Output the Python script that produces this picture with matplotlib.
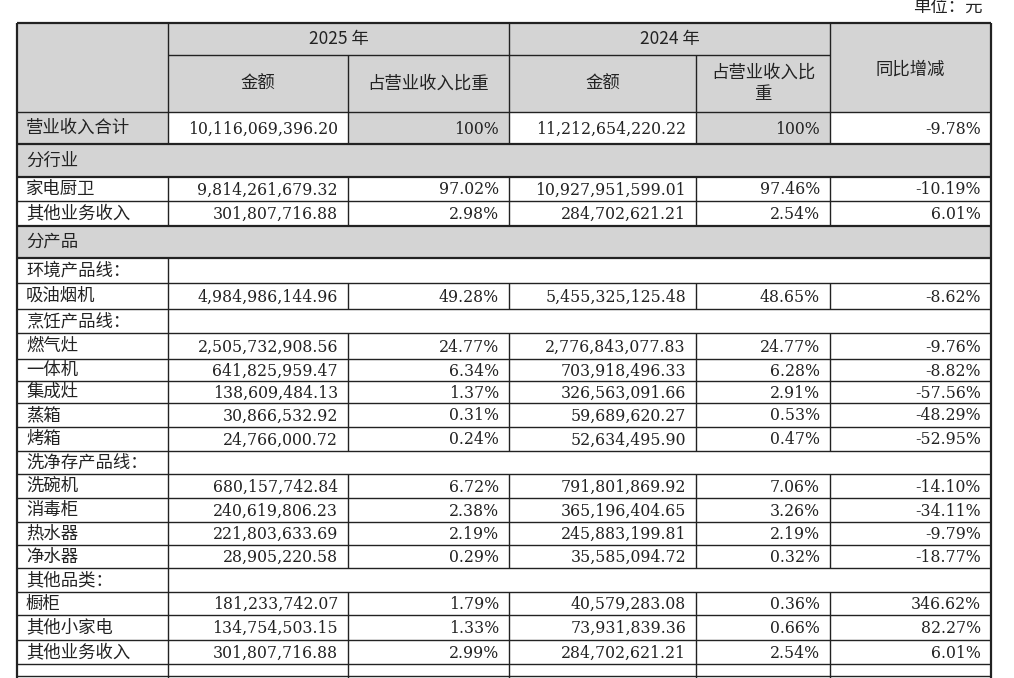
import matplotlib
matplotlib.use("Agg")
import matplotlib.pyplot as plt
from matplotlib.patches import Rectangle

plt.rcParams['font.family'] = ['Noto Sans CJK SC', 'DejaVu Sans']

# ---- data ----
row_labels = ["营业收入合计", "分行业", "家电厨卫", "其他业务收入", "分产品", "环境产品线：", "吸油烟机",
              "烹饪产品线：", "燃气灶", "一体机", "集成灶", "蒸箱", "烤箱", "洗净存产品线：", "洗碗机",
              "消毒柜", "热水器", "净水器", "其他品类：", "橱柜", "其他小家电", "其他业务收入"]
row_kind = ["total", "section", "data", "data", "section", "sub", "data",
            "sub", "data", "data", "data", "data", "data", "sub", "data",
            "data", "data", "data", "sub", "data", "data", "data"]
amount_2025 = ["10,116,069,396.20", "", "9,814,261,679.32", "301,807,716.88", "", "", "4,984,986,144.96",
               "", "2,505,732,908.56", "641,825,959.47", "138,609,484.13", "30,866,532.92", "24,766,000.72", "",
               "680,157,742.84", "240,619,806.23", "221,803,633.69", "28,905,220.58", "",
               "181,233,742.07", "134,754,503.15", "301,807,716.88"]
share_2025 = ["100%", "", "97.02%", "2.98%", "", "", "49.28%", "", "24.77%", "6.34%", "1.37%", "0.31%",
              "0.24%", "", "6.72%", "2.38%", "2.19%", "0.29%", "", "1.79%", "1.33%", "2.99%"]
amount_2024 = ["11,212,654,220.22", "", "10,927,951,599.01", "284,702,621.21", "", "", "5,455,325,125.48",
               "", "2,776,843,077.83", "703,918,496.33", "326,563,091.66", "59,689,620.27", "52,634,495.90", "",
               "791,801,869.92", "365,196,404.65", "245,883,199.81", "35,585,094.72", "",
               "40,579,283.08", "73,931,839.36", "284,702,621.21"]
share_2024 = ["100%", "", "97.46%", "2.54%", "", "", "48.65%", "", "24.77%", "6.28%", "2.91%", "0.53%",
              "0.47%", "", "7.06%", "3.26%", "2.19%", "0.32%", "", "0.36%", "0.66%", "2.54%"]
yoy = ["-9.78%", "", "-10.19%", "6.01%", "", "", "-8.62%", "", "-9.76%", "-8.82%", "-57.56%", "-48.29%",
       "-52.95%", "", "-14.10%", "-34.11%", "-9.79%", "-18.77%", "", "346.62%", "82.27%", "6.01%"]

# ---- layout ----
W, H = 1014, 678
col_x = [17, 168, 348, 509, 696, 830, 991]
top, h1, h2 = 23, 55, 112
row_bottoms = [144, 177, 201, 226, 258, 283, 309, 333, 359, 381, 403, 427, 451, 474, 498,
               522, 545, 568, 592, 615, 640, 664]
grey = "#d4d4d4"
fs = 12.5
nfs = 11.3
numfont = ["DejaVu Serif"]
tc = "#222"

fig = plt.figure(figsize=(W / 100, H / 100), dpi=100)
ax = fig.add_axes([0, 0, 1, 1])
ax.set_xlim(0, W); ax.set_ylim(H, 0); ax.axis("off")

def rect(x0, y0, x1, y1, fc):
    ax.add_patch(Rectangle((x0, y0), x1 - x0, y1 - y0, facecolor=fc, edgecolor="none", zorder=0))

def hline(x0, x1, y, lw=1.0):
    ax.plot([x0, x1], [y, y], color="#222", lw=lw, zorder=2, solid_capstyle="butt")

def vline(x, y0, y1, lw=1.0):
    ax.plot([x, x], [y0, y1], color="#222", lw=lw, zorder=2, solid_capstyle="butt")

ax.text(983, 8, "单位：元", ha="right", va="center", fontsize=fs, color=tc)

# header
rect(col_x[0], top, col_x[-1], h2, grey)
ax.text((col_x[1] + col_x[3]) / 2, (top + h1) / 2, "2025 年", ha="center", va="center", fontsize=fs, color=tc)
ax.text((col_x[3] + col_x[5]) / 2, (top + h1) / 2, "2024 年", ha="center", va="center", fontsize=fs, color=tc)
ym = (h1 + h2) / 2
ax.text((col_x[1] + col_x[2]) / 2, ym, "金额", ha="center", va="center", fontsize=fs, color=tc)
ax.text((col_x[2] + col_x[3]) / 2, ym, "占营业收入比重", ha="center", va="center", fontsize=fs, color=tc)
ax.text((col_x[3] + col_x[4]) / 2, ym, "金额", ha="center", va="center", fontsize=fs, color=tc)
ax.text((col_x[4] + col_x[5]) / 2, ym, "占营业收入比\n重", ha="center", va="center", fontsize=fs,
        linespacing=1.2, color=tc)
ax.text((col_x[5] + col_x[6]) / 2, 70, "同比增减", ha="center", va="center", fontsize=fs, color=tc)
hline(col_x[0], col_x[-1], top, 1.6)
hline(col_x[1], col_x[5], h1)
hline(col_x[0], col_x[-1], h2)
for x in [col_x[0], col_x[1], col_x[5], col_x[6]]:
    vline(x, top, h2, 1.6 if x in (col_x[0], col_x[6]) else 1.0)
vline(col_x[3], top, h2)
for x in [col_x[2], col_x[4]]:
    vline(x, h1, h2)

# body
prev = h2
for i, lab in enumerate(row_labels):
    y0, y1 = prev, row_bottoms[i]
    yc = (y0 + y1) / 2
    kind = row_kind[i]
    if kind == "section":
        rect(col_x[0], y0, col_x[-1], y1, grey)
        vline(col_x[0], y0, y1, 1.6); vline(col_x[-1], y0, y1, 1.6)
    elif kind == "sub":
        vline(col_x[0], y0, y1, 1.6); vline(col_x[1], y0, y1); vline(col_x[-1], y0, y1, 1.6)
    else:
        if kind == "total":
            rect(col_x[0], y0, col_x[1], y1, grey)
            rect(col_x[2], y0, col_x[3], y1, grey)
            rect(col_x[4], y0, col_x[5], y1, grey)
        for x in col_x:
            vline(x, y0, y1, 1.6 if x in (col_x[0], col_x[6]) else 1.0)
        vals = [amount_2025[i], share_2025[i], amount_2024[i], share_2024[i], yoy[i]]
        for j, v in enumerate(vals):
            ax.text(col_x[j + 2] - 10, yc + 1, v, ha="right", va="center", fontsize=nfs,
                    family=numfont, color=tc)
    ax.text(col_x[0] + 9, yc, lab, ha="left", va="center", fontsize=fs, color=tc)
    hline(col_x[0], col_x[-1], y1, 1.6 if kind == "section" or row_kind[min(i + 1, len(row_kind) - 1)] == "section" else 1.0)
    prev = y1

# continuation of the table below the visible area
for x in col_x:
    vline(x, prev, H + 5, 1.6 if x in (col_x[0], col_x[6]) else 1.0)
hline(col_x[0], col_x[-1], prev + 12, 1.0)

fig.savefig("out.png", dpi=100)
